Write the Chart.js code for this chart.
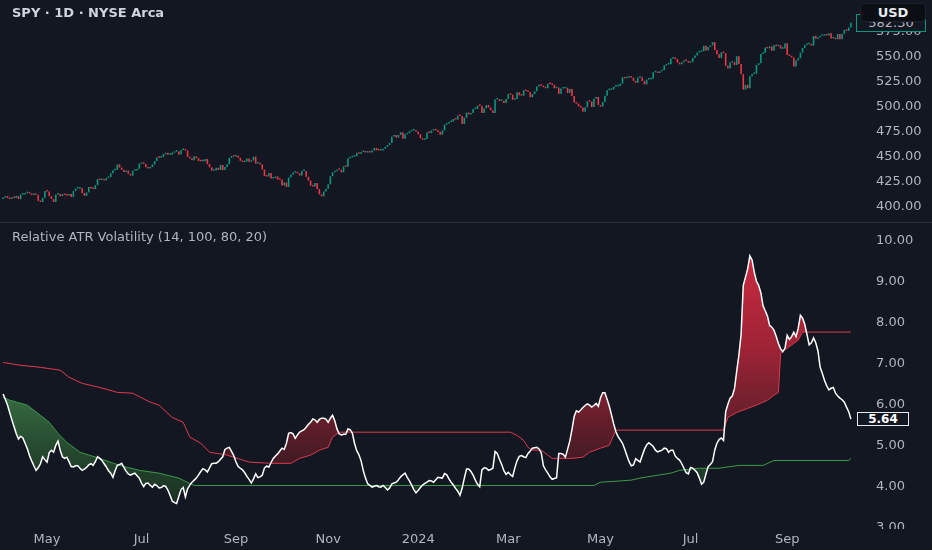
<!DOCTYPE html>
<html>
<head>
<meta charset="utf-8">
<script src="https://cdn.jsdelivr.net/npm/chart.js@4"></script>
<style>
  body { margin: 0; background: #131722; width: 932px; height: 550px; overflow: hidden; position: relative; font-family: "DejaVu Sans", sans-serif; }
  #topWrap { position: absolute; left: 0; top: 0; width: 932px; height: 222px; }
  #sep { position: absolute; left: 0; top: 222px; width: 932px; height: 1px; background: #2a2e39; }
  #botWrap { position: absolute; left: 0; top: 223px; width: 932px; height: 327px; }
  .title { position: absolute; left: 12px; font-size: 13px; white-space: nowrap; }
  #t1 { top: 5px; color: #d1d4dc; font-weight: 600; }
  #t2 { top: 229px; color: #b2b5be; }
  #lastPrice { position: absolute; left: 856px; top: 14px; width: 68px; height: 16px; border: 1px solid #089981; color: #b2b5be; font-size: 13px; line-height: 16px; text-align: center; background: #131722; }
  #usd { position: absolute; left: 860px; top: 3px; width: 66px; height: 19px; border-radius: 4px; background: #0c0e15; border: 1px solid #1e222d; box-sizing: border-box; color: #e8eaef; font-size: 13px; font-weight: bold; line-height: 17px; text-align: center; }
  #lastAtr { position: absolute; left: 857px; top: 412px; width: 50px; height: 12px; border: 1px solid #e8eaef; color: #ffffff; font-size: 12px; font-weight: bold; line-height: 12px; text-align: center; background: #131722; }
  #axisCover { position: absolute; left: 853px; top: 529px; width: 79px; height: 21px; background: #131722; }
</style>
</head>
<body>
<div id="topWrap"><canvas id="priceChart"></canvas></div>
<div id="sep"></div>
<div id="botWrap"><canvas id="atrChart"></canvas></div>
<div id="axisCover"></div>
<div class="title" id="t1">SPY · 1D · NYSE Arca</div>
<div class="title" id="t2">Relative ATR Volatility (14, 100, 80, 20)</div>
<div id="lastPrice">582.30</div>
<div id="usd">USD</div>
<div id="lastAtr">5.64</div>
<script>
// daily closes, 2023-03-31 .. 2024-10-14 (one line per month)
const firstOpen = 408.0;
const closes = [
  409.4,
  410.9, 408.9, 408.0, 409.2, 409.1, 411.0, 407.9, 412.5, 412.5, 413.9, 414.2, 413.5, 411.9, 412.2, 412.1, 406.1, 405.0, 409.1, 415.9,
  415.5, 410.8, 408.0, 405.1, 412.6, 412.9, 410.8, 412.9, 412.0, 411.6, 413.0, 410.0, 415.9, 418.6, 418.6, 418.8, 414.1, 411.1, 414.6, 420.0, 418.8, 417.9,
  421.8, 427.9, 427.1, 428.0, 426.6, 429.1, 429.9, 433.8, 436.7, 437.2, 442.6, 439.5, 437.2, 434.9, 436.5, 433.2, 431.4, 436.2, 436.4, 438.1, 443.3,
  443.8, 443.1, 439.7, 438.6, 440.0, 442.5, 446.0, 449.6, 449.3, 450.0, 452.7, 454.2, 452.2, 452.2, 454.2, 455.4, 455.5, 452.5, 456.9, 457.8,
  456.5, 450.1, 448.8, 446.8, 450.7, 448.8, 445.8, 445.7, 445.7, 448.1, 442.9, 439.6, 436.3, 436.5, 439.3, 437.0, 442.0, 436.9, 440.0, 442.8, 449.2, 451.0, 450.4,
  451.2, 449.2, 446.2, 444.9, 445.5, 448.4, 445.2, 446.5, 450.4, 443.4, 443.6, 442.7, 437.4, 431.0, 430.4, 434.1, 428.5, 428.9, 430.6, 427.5,
  427.3, 421.6, 424.5, 420.0, 429.5, 432.3, 434.5, 435.3, 433.7, 431.5, 436.0, 436.0, 430.2, 426.4, 421.2, 420.5, 424.0, 418.0, 412.6, 410.7, 415.6, 418.2,
  422.7, 430.8, 434.7, 435.7, 437.3, 437.2, 434.7, 440.6, 440.2, 448.7, 449.7, 450.2, 450.8, 454.3, 453.3, 455.0, 455.3, 454.5, 454.9, 454.6, 456.4,
  459.1, 456.7, 456.6, 456.6, 458.2, 460.2, 462.0, 464.1, 470.5, 472.0, 469.3, 472.0, 474.8, 468.3, 472.7, 473.7, 475.7, 476.5, 476.7, 475.3,
  472.7, 468.8, 467.3, 467.9, 474.6, 473.9, 476.6, 477.7, 476.7, 474.9, 472.3, 476.5, 482.4, 483.5, 484.9, 485.4, 488.0, 487.4, 491.3, 490.9, 482.9,
  489.2, 494.4, 492.6, 494.0, 498.1, 498.1, 501.2, 501.0, 494.1, 498.6, 502.0, 499.5, 496.8, 494.0, 507.5, 507.9, 506.0, 506.0, 504.0, 508.1,
  512.9, 512.3, 507.2, 507.9, 514.8, 511.7, 511.3, 516.8, 516.0, 514.9, 509.8, 512.9, 515.7, 520.5, 522.2, 521.2, 519.8, 518.8, 523.2, 523.1,
  522.2, 518.8, 519.4, 513.1, 518.4, 518.7, 519.3, 514.1, 518.0, 510.9, 504.5, 503.5, 500.6, 499.5, 495.2, 499.7, 505.7, 505.4, 499.9, 508.3, 510.1, 502.0,
  500.4, 505.0, 511.3, 516.8, 517.1, 517.6, 520.2, 520.8, 520.9, 523.3, 529.8, 528.7, 529.5, 530.1, 529.4, 526.1, 524.2, 529.4, 529.8, 526.1, 522.6, 527.4,
  527.8, 528.4, 534.7, 535.0, 534.0, 535.7, 536.9, 541.4, 542.5, 542.8, 548.5, 548.5, 548.0, 544.5, 542.7, 544.8, 546.4, 546.0, 544.2,
  545.3, 549.0, 551.5, 554.6, 555.3, 555.8, 561.3, 556.5, 560.0, 561.5, 564.9, 556.9, 552.7, 549.0, 554.7, 553.8, 541.2, 538.4, 544.4, 544.8, 542.0, 550.8,
  543.0, 532.9, 517.4, 522.2, 518.7, 530.7, 533.0, 533.3, 542.0, 543.8, 553.1, 554.3, 559.6, 558.7, 560.6, 556.2, 562.1, 560.8, 561.6, 558.3, 558.4, 563.7,
  552.1, 551.0, 549.6, 540.4, 546.4, 548.8, 554.4, 559.1, 562.0, 562.8, 563.1, 561.4, 571.0, 568.3, 569.7, 571.3, 571.3, 572.3, 571.5, 573.8,
  568.6, 568.9, 567.8, 573.0, 567.8, 573.2, 577.1, 576.1, 579.6, 584.3
];

// Relative ATR volatility, one value per trading day
const atr = [
  6.25, 6.12, 5.98, 5.8, 5.62, 5.45, 5.28, 5.15, 5.22, 5.18,
  5.05, 4.92, 4.75, 4.62, 4.5, 4.39, 4.45, 4.55, 4.72, 4.65,
  4.59, 4.82, 4.88, 4.83, 5.0, 5.1, 4.88, 4.72, 4.68, 4.71,
  4.6, 4.48, 4.47, 4.5, 4.5, 4.44, 4.39, 4.42, 4.46, 4.52,
  4.55, 4.51, 4.6, 4.72, 4.68, 4.63, 4.55, 4.47, 4.38, 4.32,
  4.22, 4.38, 4.51, 4.53, 4.56, 4.46, 4.37, 4.3, 4.27, 4.3,
  4.32, 4.26, 4.2, 4.08, 3.99, 4.07, 4.08, 4.02, 3.98, 4.05,
  4.02, 3.96, 3.97, 4.01, 4.0, 3.91, 3.78, 3.64, 3.6, 3.58,
  3.75, 3.92, 3.97, 3.74, 3.94, 4.03, 4.1, 4.15, 4.2, 4.28,
  4.36, 4.43, 4.4, 4.35, 4.45, 4.55, 4.56, 4.56, 4.6, 4.66,
  4.72, 4.9, 4.93, 4.95, 4.85, 4.75, 4.6, 4.48, 4.44, 4.4,
  4.33, 4.24, 4.17, 4.08, 4.18, 4.3, 4.21, 4.23, 4.27, 4.45,
  4.49, 4.47, 4.58, 4.68, 4.74, 4.79, 4.86, 4.93, 4.9, 5.05,
  5.29, 5.31, 5.28, 5.17, 5.25, 5.32, 5.35, 5.38, 5.44, 5.51,
  5.56, 5.64, 5.62, 5.56, 5.63, 5.66, 5.66, 5.64, 5.56, 5.66,
  5.73, 5.6, 5.4, 5.28, 5.25, 5.27, 5.27, 5.4, 5.38, 5.3,
  5.05, 4.87, 4.77, 4.62, 4.38, 4.2, 4.06, 4.02, 3.98, 4.0,
  4.02, 3.99, 3.98, 4.02, 3.97, 3.91, 3.96, 4.06, 4.08, 4.1,
  4.16, 4.23, 4.28, 4.32, 4.22, 4.13, 4.03, 3.92, 3.84, 3.9,
  3.97, 4.03, 4.07, 4.1, 4.14, 4.13, 4.1, 4.16, 4.22, 4.21,
  4.2, 4.31, 4.28, 4.18, 4.1, 4.03, 3.95, 3.88, 3.78, 3.95,
  4.2, 4.42, 4.42, 4.36, 4.27, 4.15, 4.05, 3.99, 4.4, 4.45,
  4.44, 4.39, 4.41, 4.44, 4.85, 4.8, 4.66, 4.53, 4.38, 4.29,
  4.34, 4.28, 4.24, 4.45, 4.62, 4.73, 4.75, 4.72, 4.7, 4.8,
  4.86, 4.93, 4.94, 4.95, 4.91, 4.82, 4.5, 4.4, 4.32, 4.23,
  4.17, 4.19, 4.21, 4.8, 4.8, 4.78, 4.71, 4.9, 5.1, 5.38,
  5.7, 5.84, 5.81, 5.86, 5.92, 5.97, 6.01, 5.98, 5.93, 5.97,
  6.02, 5.95, 6.16, 6.28, 6.28, 6.12, 5.95, 5.74, 5.52, 5.33,
  5.21, 5.13, 5.05, 4.91, 4.75, 4.6, 4.5, 4.52, 4.67, 4.63,
  4.59, 4.75, 4.9, 5.01, 5.06, 5.02, 4.97, 4.88, 4.84, 4.86,
  4.88, 4.93, 4.92, 4.83, 4.88, 4.88, 4.74, 4.68, 4.64, 4.55,
  4.44, 4.33, 4.3, 4.46, 4.44, 4.39, 4.33, 4.2, 4.05, 4.1,
  4.3, 4.48, 4.53, 4.6, 4.88, 5.05, 5.14, 5.18, 5.12, 5.82,
  6.0, 6.15, 6.2, 6.38, 6.8, 7.2, 7.7, 8.9, 9.1, 9.3,
  9.62, 9.52, 9.22, 9.0, 8.9, 8.72, 8.4, 8.28, 8.15, 7.92,
  7.88, 7.8, 7.65, 7.48, 7.35, 7.28, 7.37, 7.68, 7.58, 7.65,
  7.76, 7.65, 7.85, 8.17, 8.1, 7.95, 7.7, 7.45, 7.5, 7.62,
  7.5, 7.3, 6.9, 6.75, 6.58, 6.45, 6.35, 6.39, 6.41, 6.27,
  6.2, 6.15, 6.11, 6.05, 5.93, 5.82, 5.64
];

// upper (red) and lower (green) bands, read at trading-day indexes
const upperDay = [0, 8, 17, 26, 30, 36, 44, 52, 59, 67, 71, 77, 82, 85, 90, 94, 102, 105, 112, 122, 131, 135, 140, 144, 148, 150, 153, 231, 234, 237, 239, 241, 245, 248, 250, 259, 264, 267, 272, 276, 279, 328, 330, 334, 339, 343, 348, 351, 353, 354, 357, 362, 364, 386];
const upperVal = [7.02, 6.95, 6.9, 6.83, 6.66, 6.51, 6.41, 6.29, 6.27, 6.05, 5.98, 5.68, 5.56, 5.2, 5.05, 4.83, 4.76, 4.71, 4.59, 4.56, 4.56, 4.68, 4.76, 4.88, 4.95, 5.2, 5.32, 5.32, 5.24, 5.12, 4.95, 4.88, 4.88, 4.76, 4.68, 4.68, 4.71, 4.83, 4.93, 5.0, 5.37, 5.37, 5.68, 5.8, 5.9, 5.98, 6.1, 6.22, 6.29, 7.24, 7.37, 7.56, 7.76, 7.76];
const lowerDay = [0, 3, 11, 17, 21, 25, 29, 35, 44, 53, 62, 71, 80, 85, 87, 269, 272, 278, 286, 290, 298, 304, 308, 317, 326, 335, 346, 351, 385, 386];
const lowerVal = [6.17, 6.1, 5.98, 5.73, 5.56, 5.29, 5.07, 4.83, 4.68, 4.51, 4.39, 4.32, 4.2, 4.07, 4.02, 4.02, 4.1, 4.12, 4.15, 4.2, 4.27, 4.32, 4.39, 4.44, 4.44, 4.51, 4.51, 4.63, 4.63, 4.68];

const priceTicks = [400, 425, 450, 475, 500, 525, 550, 575];
const atrTicks = [3, 4, 5, 6, 7, 8, 9, 10];
const xTickMonths = ['2023-05', '2023-07', '2023-09', '2023-11', '2024-01', '2024-03', '2024-05', '2024-07', '2024-09'];
const xTickLabels = ['May', 'Jul', 'Sep', 'Nov', '2024', 'Mar', 'May', 'Jul', 'Sep'];
const holidays = ['2023-04-07', '2023-05-29', '2023-06-19', '2023-07-04', '2023-09-04', '2023-11-23', '2023-12-25',
  '2024-01-01', '2024-01-15', '2024-02-19', '2024-03-29', '2024-05-27', '2024-06-19', '2024-07-04', '2024-09-02'];

// trading days
const days = [];
for (let d = new Date(Date.UTC(2023, 2, 31)); d <= new Date(Date.UTC(2024, 9, 14)); d.setUTCDate(d.getUTCDate() + 1)) {
  const s = d.toISOString().slice(0, 10);
  const wd = d.getUTCDay();
  if (wd === 0 || wd === 6 || holidays.includes(s)) continue;
  days.push(s);
}
const monthTicks = xTickMonths.map(m => days.findIndex(d => d.startsWith(m)));

const UP = '#089981', DOWN = '#f23645';
const bodies = closes.map((c, i) => [i ? closes[i - 1] : firstOpen, c]);
const candleColors = bodies.map(b => (b[1] >= b[0] ? UP : DOWN));

Chart.defaults.font.family = '"DejaVu Sans", sans-serif';
Chart.defaults.font.size = 13;
Chart.defaults.color = '#b2b5be';

const noPad = s => { s.paddingTop = 0; s.paddingBottom = 0; s.paddingLeft = 0; s.paddingRight = 0; };

new Chart(document.getElementById('priceChart'), {
  type: 'bar',
  data: {
    labels: days,
    datasets: [{
      data: bodies,
      backgroundColor: candleColors,
      borderWidth: 0,
      barPercentage: 0.72,
      categoryPercentage: 1,
      minBarLength: 1.5
    }]
  },
  options: {
    animation: false,
    responsive: true,
    maintainAspectRatio: false,
    layout: { padding: { left: 2, right: 0, top: 0, bottom: 0 } },
    plugins: { legend: { display: false }, tooltip: { enabled: false } },
    scales: {
      x: { display: false, offset: true, afterFit: noPad },
      y: {
        position: 'right',
        min: 385,
        max: 607,
        grid: { display: false },
        border: { display: false },
        afterBuildTicks: s => { s.ticks = priceTicks.map(v => ({ value: v })); },
        afterFit: s => { s.width = 80; noPad(s); },
        ticks: { padding: 16, callback: v => v.toFixed(2) }
      }
    }
  }
});

function vGrad(chart, top, bottom, stops) {
  const { ctx, scales } = chart;
  const fallback = stops[Math.floor(stops.length / 2)][1];
  if (!scales.y) return fallback;
  const y0 = scales.y.getPixelForValue(top), y1 = scales.y.getPixelForValue(bottom);
  if (!isFinite(y0) || !isFinite(y1) || y0 === y1) return fallback;
  const g = ctx.createLinearGradient(0, y0, 0, y1);
  stops.forEach(([p, c]) => g.addColorStop(p, c));
  return g;
}
const redShade = c => vGrad(c.chart, 9.6, 4.5, [[0, '#c92b40'], [0.45, '#9c2335'], [0.75, '#6a1f2c'], [1, '#3e1a23']]);
const greenShade = c => vGrad(c.chart, 6.2, 3.6, [[0, '#356a40'], [0.5, '#25492f'], [1, '#1a3023']]);

new Chart(document.getElementById('atrChart'), {
  type: 'line',
  data: {
    labels: days,
    datasets: [
      {
        data: atr,
        borderColor: '#ffffff',
        borderWidth: 1.5,
        pointRadius: 0,
        tension: 0,
        fill: c => ({ target: 2, above: redShade(c), below: 'rgba(0,0,0,0)' })
      },
      {
        data: atr,
        borderColor: 'rgba(0,0,0,0)',
        borderWidth: 0,
        pointRadius: 0,
        tension: 0,
        fill: c => ({ target: 3, above: 'rgba(0,0,0,0)', below: greenShade(c) })
      },
      {
        data: upperDay.map((d, k) => ({ x: days[d], y: upperVal[k] })),
        borderColor: '#e0394f',
        borderWidth: 1,
        pointRadius: 0,
        tension: 0,
        fill: false
      },
      {
        data: lowerDay.map((d, k) => ({ x: days[d], y: lowerVal[k] })),
        borderColor: '#3d9a4a',
        borderWidth: 1,
        pointRadius: 0,
        tension: 0,
        fill: false
      }
    ]
  },
  options: {
    animation: false,
    responsive: true,
    maintainAspectRatio: false,
    layout: { padding: { left: 2, right: 0, top: 0, bottom: 0 } },
    plugins: {
      legend: { display: false },
      tooltip: { enabled: false },
      filler: { drawTime: 'beforeDatasetsDraw' }
    },
    scales: {
      x: {
        offset: true,
        grid: { display: false, drawTicks: false },
        border: { display: false },
        afterBuildTicks: s => { s.ticks = monthTicks.map(v => ({ value: v })); },
        afterFit: s => { s.height = 22; noPad(s); },
        ticks: { autoSkip: false, maxRotation: 0, padding: 4, callback: (v, i) => xTickLabels[i] }
      },
      y: {
        position: 'right',
        min: 2.983,
        max: 10.42,
        grid: { display: false },
        border: { display: false },
        afterBuildTicks: s => { s.ticks = atrTicks.map(v => ({ value: v })); },
        afterFit: s => { s.width = 80; noPad(s); },
        ticks: { padding: 16, callback: v => v.toFixed(2) }
      }
    }
  }
});
</script>
</body>
</html>
